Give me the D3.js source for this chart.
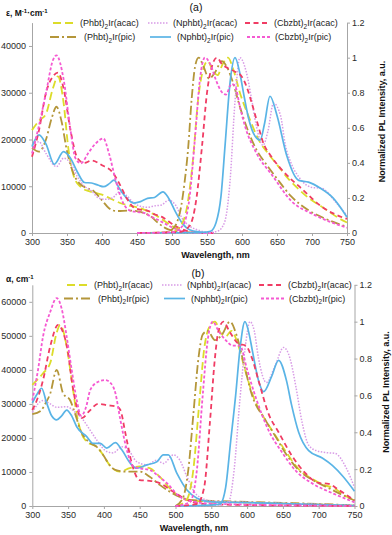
<!DOCTYPE html>
<html>
<head>
<meta charset="utf-8">
<script src="https://cdn.jsdelivr.net/npm/d3@7"></script>
<style>
  body { margin: 0; background: #fff; }
  svg { display: block; font-family: "Liberation Sans", Arial, sans-serif; }
</style>
</head>
<body>
<svg id="chart" width="392" height="535"></svg>
<script>
// absorption + PL spectra of six Ir complexes, two panels (a) and (b)

var seriesNames = ["(Phbt)2Ir(acac)", "(Phbt)2Ir(pic)", "(Nphbt)2Ir(acac)",
                   "(Nphbt)2Ir(pic)", "(Cbzbt)2Ir(acac)", "(Cbzbt)2Ir(pic)"];
var xTicks = [300, 350, 400, 450, 500, 550, 600, 650, 700, 750];
var leftTicksA = [0, 10000, 20000, 30000, 40000];
var leftTicksB = [0, 10000, 20000, 30000, 40000, 50000, 60000];
var rightTicks = [0, 0.2, 0.4, 0.6, 0.8, 1, 1.2];

// panel (a): extinction coefficient, [wavelength, value]
var absA_phbtAcac = [[300,22000],[310,24000],[320,25500],[330,31000],[337,33500],[345,28000],[352,18000],[360,12000],[370,9800],[380,9000],[390,8600],[400,8200],[410,7500],[420,6800],[430,6200],[440,5800],[450,5500],[460,5000],[470,4300],[480,3500],[490,2500],[500,1500],[510,800],[520,300],[535,80],[560,0]];
var absA_phbtPic = [[300,18200],[310,17400],[320,20000],[328,24500],[335,27000],[342,24000],[350,17500],[364,11300],[378,9600],[386,9200],[400,7000],[410,5300],[420,4700],[440,4800],[460,4300],[470,3500],[480,2200],[490,1100],[500,500],[510,200],[530,0],[560,0]];
var absA_nphbtAcac = [[300,18800],[310,19500],[320,17000],[335,14200],[345,16000],[355,15000],[365,12000],[375,10000],[385,9000],[395,7500],[405,7200],[415,7500],[425,8800],[435,8000],[445,6500],[455,5700],[465,5500],[475,5800],[485,6000],[495,7000],[505,6000],[515,3000],[525,1500],[540,500],[560,0]];
var absA_nphbtPic = [[300,18500],[310,21000],[320,19000],[332,14700],[345,17400],[355,16000],[365,13000],[375,10800],[385,10700],[395,10200],[402,9900],[410,10500],[417,11300],[425,9500],[435,7500],[445,6400],[455,6700],[465,7400],[475,7600],[487,8800],[495,7500],[505,4500],[515,2000],[525,700],[540,200],[560,0]];
var absA_cbzbtAcac = [[300,16300],[310,22000],[320,30000],[330,33500],[337,34300],[345,31000],[355,22000],[365,16000],[375,15000],[385,15500],[400,14500],[415,13000],[425,10500],[435,7500],[445,5500],[455,5000],[465,4800],[475,4000],[485,3500],[495,2500],[505,1500],[520,500],[540,0],[560,0]];
var absA_cbzbtPic = [[300,17000],[310,23000],[320,30000],[330,37000],[335,38000],[345,33000],[355,22000],[362,16000],[370,14900],[380,17000],[390,19000],[402,20200],[410,17000],[420,11000],[430,6500],[440,4800],[450,4500],[460,4300],[470,3500],[480,2800],[490,2000],[500,1200],[510,600],[520,200],[540,0],[560,0]];

// panel (a): normalized PL
var emA_phbtAcac = [[450,0],[500,0.005],[510,0.03],[520,0.12],[530,0.42],[537,0.75],[545,0.94],[551,0.98],[558,0.93],[565,0.9],[572,0.96],[580,1.0],[587,0.94],[597,0.8],[611,0.65],[624,0.53],[638,0.45],[652,0.38],[666,0.31],[681,0.25],[695,0.2],[710,0.16],[725,0.12],[738,0.085],[750,0.06]];
var emA_phbtPic = [[450,0],[490,0.003],[500,0.02],[507,0.06],[513,0.15],[518,0.29],[523,0.48],[528,0.76],[533,0.95],[538,1.0],[545,0.95],[553,0.88],[562,0.92],[571,0.98],[578,0.95],[587,0.86],[597,0.72],[607,0.6],[620,0.48],[635,0.39],[650,0.31],[670,0.21],[695,0.13],[720,0.08],[750,0.035]];
var emA_nphbtAcac = [[450,0],[550,0.002],[565,0.01],[575,0.06],[583,0.3],[590,0.75],[597,1.0],[606,0.92],[613,0.78],[620,0.62],[630,0.5],[637,0.58],[645,0.74],[655,0.67],[662,0.5],[670,0.4],[681,0.32],[700,0.26],[714,0.255],[733,0.18],[750,0.1]];
var emA_nphbtPic = [[450,0],[540,0.002],[555,0.01],[563,0.06],[570,0.21],[576,0.51],[583,0.86],[590,1.0],[597,0.91],[603,0.78],[609,0.66],[619,0.55],[626,0.53],[632,0.62],[640,0.78],[650,0.67],[664,0.44],[681,0.3],[695,0.29],[712,0.255],[730,0.2],[750,0.09]];
var emA_cbzbtAcac = [[450,0],[510,0.005],[525,0.04],[535,0.2],[543,0.5],[550,0.8],[557,0.95],[564,1.0],[572,0.96],[580,0.94],[590,0.92],[600,0.89],[607,0.83],[614,0.74],[624,0.6],[629,0.53],[643,0.43],[657,0.36],[686,0.25],[714,0.15],[743,0.09],[750,0.08]];
var emA_cbzbtPic = [[450,0],[500,0.005],[515,0.04],[525,0.2],[533,0.55],[540,0.88],[547,1.0],[555,0.96],[563,0.87],[570,0.81],[577,0.79],[585,0.85],[590,0.84],[597,0.72],[605,0.6],[620,0.46],[643,0.33],[671,0.18],[700,0.11],[725,0.065],[750,0.03]];

// panel (b): absorption coefficient
var absB_phbtAcac = [[300,35600],[315,39000],[325,42000],[334,50900],[339,53200],[348,46900],[355,37000],[362,27000],[367,22400],[376,18900],[390,17400],[399,15000],[408,12000],[422,10100],[436,11100],[450,11600],[464,11100],[478,8600],[492,5200],[506,2700],[520,1600],[550,1300],[600,1000],[650,800],[700,500],[750,100]];
var absB_phbtPic = [[300,27000],[312,28000],[318,30000],[325,33000],[334,40000],[343,33100],[353,31000],[360,27000],[367,22400],[381,18500],[390,17400],[399,15000],[408,12000],[416,10600],[432,10100],[450,10100],[464,8600],[478,6200],[492,4200],[506,2700],[520,1800],[550,1500],[600,1200],[650,900],[700,600],[750,200]];
var absB_nphbtAcac = [[300,27500],[315,31000],[325,30000],[334,29000],[348,29200],[360,27500],[371,25300],[380,22500],[390,19400],[404,16000],[413,15600],[425,17400],[432,17000],[446,13000],[460,12100],[474,13500],[483,12500],[497,15000],[506,13500],[516,8600],[530,3200],[550,1500],[600,1100],[650,800],[700,500],[750,200]];
var absB_nphbtPic = [[300,30300],[307,33000],[313,34600],[320,30300],[327,26500],[334,25300],[341,26500],[348,28200],[355,26500],[362,23300],[376,20400],[385,18400],[395,18400],[404,17000],[416,18600],[425,16500],[437,12500],[446,11100],[460,12100],[474,13000],[483,15000],[490,15000],[502,9600],[516,4700],[530,2300],[550,1200],[600,1000],[650,700],[700,400],[750,100]];
var absB_cbzbtAcac = [[300,28200],[308,32000],[315,37000],[325,46900],[336,53200],[343,51000],[350,45000],[355,37000],[362,29200],[369,25800],[380,28000],[392,30000],[405,29600],[418,29200],[423,28200],[430,21400],[439,12500],[450,7600],[464,7400],[478,6700],[497,4200],[516,1800],[540,600],[600,300],[700,100],[750,0]];
var absB_cbzbtPic = [[300,31000],[308,40000],[315,49800],[325,57000],[334,61100],[341,58000],[348,49800],[355,40000],[362,31200],[368,26500],[375,29000],[381,34100],[392,36500],[402,37000],[410,36000],[416,33200],[423,25300],[432,16500],[441,11600],[452,11000],[464,10600],[476,8800],[488,6700],[506,2700],[525,1300],[550,700],[600,400],[700,100],[750,0]];

// panel (b): normalized PL
var emB_phbtAcac = [[500,0],[515,0.03],[525,0.2],[533,0.55],[540,0.85],[547,0.97],[555,1.0],[563,0.94],[570,0.92],[578,0.95],[587,0.88],[597,0.74],[610,0.58],[625,0.47],[640,0.38],[655,0.29],[672,0.2],[692,0.145],[710,0.11],[720,0.1],[735,0.06],[750,0.03]];
var emB_phbtPic = [[500,0],[510,0.04],[518,0.2],[525,0.5],[532,0.8],[538,0.93],[545,0.95],[555,0.9],[565,0.93],[576,1.0],[585,0.93],[595,0.78],[607,0.6],[625,0.47],[640,0.375],[653,0.29],[672,0.195],[692,0.14],[710,0.105],[733,0.06],[750,0.03]];
var emB_nphbtAcac = [[500,0],[560,0.005],[574,0.02],[582,0.2],[590,0.58],[597,0.85],[604,1.0],[610,0.95],[616,0.8],[627,0.67],[639,0.76],[651,0.86],[660,0.8],[668,0.65],[677,0.45],[686,0.33],[697,0.3],[710,0.29],[723,0.285],[738,0.21],[750,0.1]];
var emB_nphbtPic = [[500,0],[550,0.005],[562,0.01],[570,0.1],[577,0.35],[584,0.6],[590,0.85],[597,1.0],[603,0.93],[607,0.85],[616,0.68],[623,0.62],[634,0.7],[644,0.79],[655,0.68],[662,0.55],[672,0.4],[686,0.3],[705,0.26],[719,0.22],[734,0.16],[750,0.08]];
var emB_cbzbtAcac = [[500,0],[530,0.01],[540,0.1],[548,0.45],[555,0.8],[560,0.95],[567,1.0],[575,0.95],[588,0.88],[598,0.87],[607,0.8],[616,0.68],[630,0.5],[644,0.4],[663,0.27],[681,0.18],[700,0.125],[714,0.12],[728,0.087],[750,0.03]];
var emB_cbzbtPic = [[500,0],[520,0.02],[530,0.2],[538,0.6],[545,0.9],[552,1.0],[560,0.95],[570,0.9],[580,0.87],[590,0.87],[600,0.74],[612,0.59],[630,0.41],[649,0.29],[667,0.195],[692,0.12],[719,0.07],[750,0.02]];

// styles per series, same order as seriesNames
var seriesColors = ["#dcdc2a", "#b4963a", "#d89be6", "#5ab4e6", "#f03c64", "#f55ad2"];
var seriesDash = ["8,4", "9,3,2,3", "1.5,1.5", null, "5,3.5", "3,2"];
var seriesWidth = [1.8, 1.8, 1.5, 1.7, 1.8, 1.8];

// legend layout: [sample x0, sample x1, text x, row]
var legendSlots = [[53, 77, 80, 0], [50, 79, 84, 1], [148, 168, 173, 0],
                   [150, 171, 177, 1], [245, 268, 274, 0], [247, 272, 275, 1]];

var svg = d3.select("#chart");

var panels = [
  { abs: [absA_phbtAcac, absA_phbtPic, absA_nphbtAcac, absA_nphbtPic, absA_cbzbtAcac, absA_cbzbtPic],
    em: [emA_phbtAcac, emA_phbtPic, emA_nphbtAcac, emA_nphbtPic, emA_cbzbtAcac, emA_cbzbtPic],
    x0: 32, x1: 347, y0: 233, y1: 22.6, leftMax: 45000, leftTicks: leftTicksA,
    legendDx: 0, legendY: [23, 37], tag: "(a)", tagX: 196, tagY: 11,
    unit: "a", unitY: 16, xLabelX: 215.5, xLabelY: 258, rLabelX: 385, rLabelY: 121.5 },
  { abs: [absB_phbtAcac, absB_phbtPic, absB_nphbtAcac, absB_nphbtPic, absB_cbzbtAcac, absB_cbzbtPic],
    em: [emB_phbtAcac, emB_phbtPic, emB_nphbtAcac, emB_nphbtPic, emB_cbzbtAcac, emB_cbzbtPic],
    x0: 32.3, x1: 354.5, y0: 506, y1: 284.8, leftMax: 65000, leftTicks: leftTicksB,
    legendDx: 14, legendY: [285, 298.5], tag: "(b)", tagX: 198, tagY: 277,
    unit: "b", unitY: 282, xLabelX: 194, xLabelY: 531, rLabelX: 389, rLabelY: 392 }
];

function styleAxis(g) {
  g.selectAll("path.domain").attr("stroke", "#a6a6a6").attr("stroke-width", 1);
  g.selectAll(".tick line").attr("stroke", "#a6a6a6");
  g.selectAll(".tick text").attr("fill", "#2a2a2a").attr("font-size", "9px");
}

function addName(text, name, subSize) {
  // "(Phbt)2Ir(acac)" -> "(Phbt)" + subscript 2 + "Ir(acac)"
  var i = name.indexOf(")2") + 1;
  text.append("tspan").text(name.slice(0, i));
  text.append("tspan").attr("font-size", subSize).attr("dy", 2.5).text("2");
  text.append("tspan").attr("dy", -2.5).text(name.slice(i + 1));
}

function drawPanel(p) {
  var g = svg.append("g");
  var x = d3.scaleLinear().domain([300, 750]).range([p.x0, p.x1]);
  var yL = d3.scaleLinear().domain([0, p.leftMax]).range([p.y0, p.y1]);
  var yR = d3.scaleLinear().domain([0, 1.2]).range([p.y0, p.y1]);

  g.append("g")
      .attr("transform", "translate(0," + p.y0 + ")")
      .call(d3.axisBottom(x).tickValues(xTicks).tickSize(3).tickSizeOuter(0).tickPadding(3))
      .call(styleAxis);
  g.append("g")
      .attr("transform", "translate(" + p.x0 + ",0)")
      .call(d3.axisLeft(yL).tickValues(p.leftTicks).tickSize(3).tickSizeOuter(0)
              .tickPadding(3).tickFormat(d3.format("d")))
      .call(styleAxis);
  g.append("g")
      .attr("transform", "translate(" + p.x1 + ",0)")
      .call(d3.axisRight(yR).tickValues(rightTicks).tickSize(3).tickSizeOuter(0)
              .tickPadding(2).tickFormat(function(d) { return d; }))
      .call(styleAxis);

  var lineL = d3.line().curve(d3.curveMonotoneX)
      .x(function(d) { return x(d[0]); }).y(function(d) { return yL(d[1]); });
  var lineR = d3.line().curve(d3.curveMonotoneX)
      .x(function(d) { return x(d[0]); }).y(function(d) { return yR(d[1]); });

  var lines = g.append("g").attr("fill", "none");
  p.abs.forEach(function(s, i) {
    lines.append("path").datum(s)
        .attr("d", lineL)
        .attr("stroke", seriesColors[i])
        .attr("stroke-width", seriesWidth[i])
        .attr("stroke-dasharray", seriesDash[i]);
  });
  p.em.forEach(function(s, i) {
    lines.append("path").datum(s)
        .attr("d", lineR)
        .attr("stroke", seriesColors[i])
        .attr("stroke-width", seriesWidth[i])
        .attr("stroke-dasharray", seriesDash[i]);
  });

  // legend
  var leg = g.append("g");
  seriesNames.forEach(function(name, i) {
    var slot = legendSlots[i];
    var ly = p.legendY[slot[3]];
    leg.append("line")
        .attr("x1", slot[0] + p.legendDx).attr("x2", slot[1] + p.legendDx)
        .attr("y1", ly).attr("y2", ly)
        .attr("stroke", seriesColors[i])
        .attr("stroke-width", seriesWidth[i])
        .attr("stroke-dasharray", seriesDash[i]);
    var t = leg.append("text")
        .attr("x", slot[2] + p.legendDx).attr("y", ly + 3)
        .attr("font-size", "9px").attr("fill", "#222");
    addName(t, name, "6.5px");
  });

  // titles
  var unit = g.append("text").attr("x", 6).attr("y", p.unitY)
      .attr("font-size", "8.5px").attr("font-weight", "bold").attr("fill", "#111");
  if (p.unit == "a") {
    unit.append("tspan").text("\u03b5, M");
    unit.append("tspan").attr("font-size", "6px").attr("dy", -3).text("-1");
    unit.append("tspan").attr("dy", 3).text("\u00b7cm");
    unit.append("tspan").attr("font-size", "6px").attr("dy", -3).text("-1");
  } else {
    unit.append("tspan").text("\u03b1, cm");
    unit.append("tspan").attr("font-size", "6px").attr("dy", -3).text("-1");
  }

  g.append("text").attr("x", p.tagX).attr("y", p.tagY)
      .attr("text-anchor", "middle").attr("font-size", "10.5px").attr("fill", "#111")
      .text(p.tag);

  g.append("text").attr("x", p.xLabelX).attr("y", p.xLabelY)
      .attr("text-anchor", "middle").attr("font-size", "9px")
      .attr("font-weight", "bold").attr("fill", "#111")
      .text("Wavelength, nm");

  g.append("text")
      .attr("transform", "translate(" + p.rLabelX + "," + p.rLabelY + ") rotate(-90)")
      .attr("text-anchor", "middle").attr("font-size", "9px")
      .attr("font-weight", "bold").attr("fill", "#111")
      .text("Normalized PL Intensity, a.u.");
}

panels.forEach(drawPanel);
</script>
</body>
</html>
